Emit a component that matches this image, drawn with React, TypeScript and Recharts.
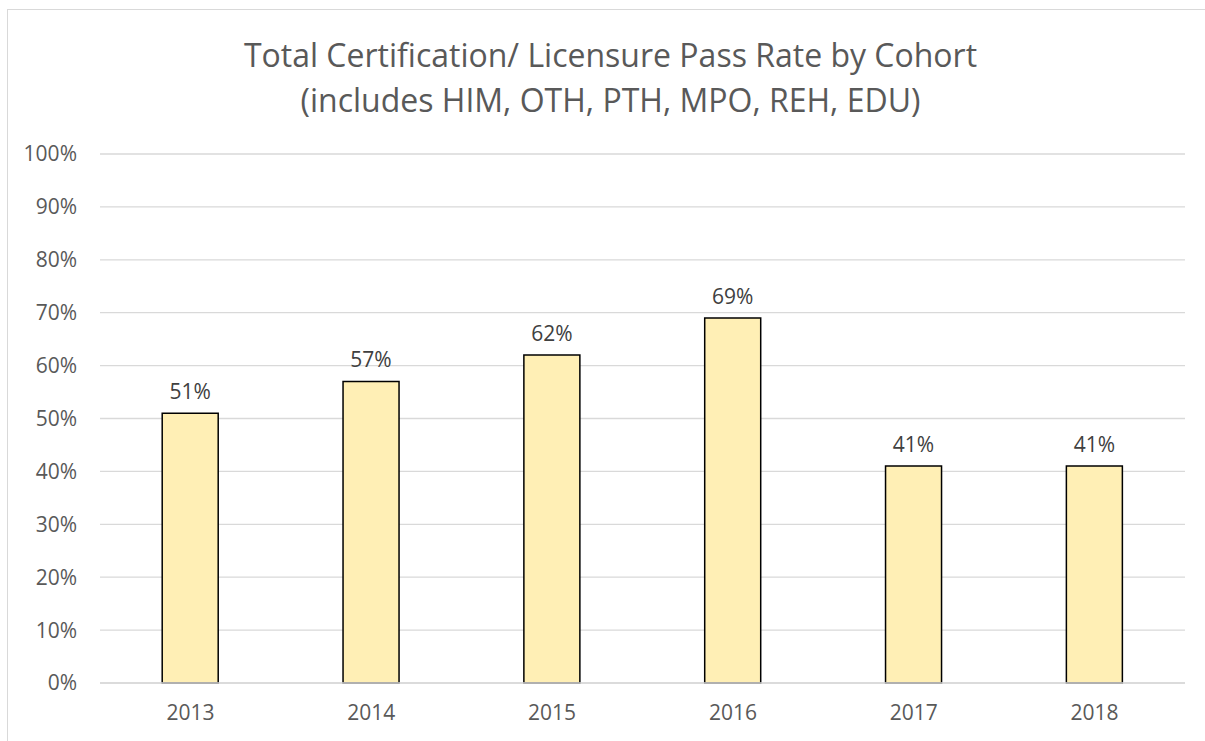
import React from "react";
import { BarChart, Bar, XAxis, YAxis, CartesianGrid, LabelList } from "recharts";

const cohorts = ["2013", "2014", "2015", "2016", "2017", "2018"];
const passRates = [51, 57, 62, 69, 41, 41];
const yTicks = [0, 10, 20, 30, 40, 50, 60, 70, 80, 90, 100];
const titleLines = [
  "Total Certification/ Licensure Pass Rate by Cohort",
  "(includes HIM, OTH, PTH, MPO, REH, EDU)",
];

const data = cohorts.map((c, i) => ({ cohort: c, rate: passRates[i] }));

const FONT = "'Open Sans', sans-serif";

export default function App() {
  return (
    <div
      style={{
        position: "absolute",
        left: 0,
        top: 0,
        width: 1205,
        height: 741,
        overflow: "hidden",
        background: "#fff",
        fontFamily: FONT,
      }}
    >
      <div
        style={{
          position: "absolute",
          left: 7,
          top: 9,
          width: 1300,
          height: 800,
          border: "1.5px solid #d9d9d9",
          boxSizing: "border-box",
        }}
      />
      <div
        style={{
          position: "absolute",
          left: 0,
          top: 32,
          width: 1221,
          textAlign: "center",
          color: "#595959",
          fontSize: 32,
          lineHeight: "45px",
        }}
      >
        {titleLines.map((t) => (
          <div key={t}>{t}</div>
        ))}
      </div>
      <div style={{ position: "absolute", left: 0, top: 0 }}>
        <BarChart
          width={1205}
          height={741}
          data={data}
          margin={{ top: 154, right: 20, bottom: 28, left: 0 }}
          barCategoryGap="34.4%"
        >
          <CartesianGrid vertical={false} stroke="#d9d9d9" strokeWidth={1.3} />
          <YAxis
            width={100}
            domain={[0, 100]}
            ticks={yTicks}
            tickFormatter={(v) => `${v}%`}
            axisLine={false}
            tickLine={false}
            tickSize={0}
            tickMargin={23}
            interval={0}
            tick={{ fill: "#595959", fontSize: 21, fontFamily: FONT }}
          />
          <XAxis
            dataKey="cohort"
            height={30}
            axisLine={{ stroke: "#d9d9d9", strokeWidth: 1.3 }}
            tickLine={false}
            tickSize={0}
            tickMargin={22}
            tick={{ fill: "#595959", fontSize: 21, fontFamily: FONT }}
          />
          <Bar
            dataKey="rate"
            fill="#FFEFB5"
            stroke="#000000"
            strokeWidth={1.5}
            isAnimationActive={false}
          >
            <LabelList
              dataKey="rate"
              position="top"
              offset={14}
              formatter={(v: number) => `${v}%`}
              style={{ fill: "#404040", fontSize: 21, fontFamily: FONT }}
            />
          </Bar>
        </BarChart>
      </div>
    </div>
  );
}
